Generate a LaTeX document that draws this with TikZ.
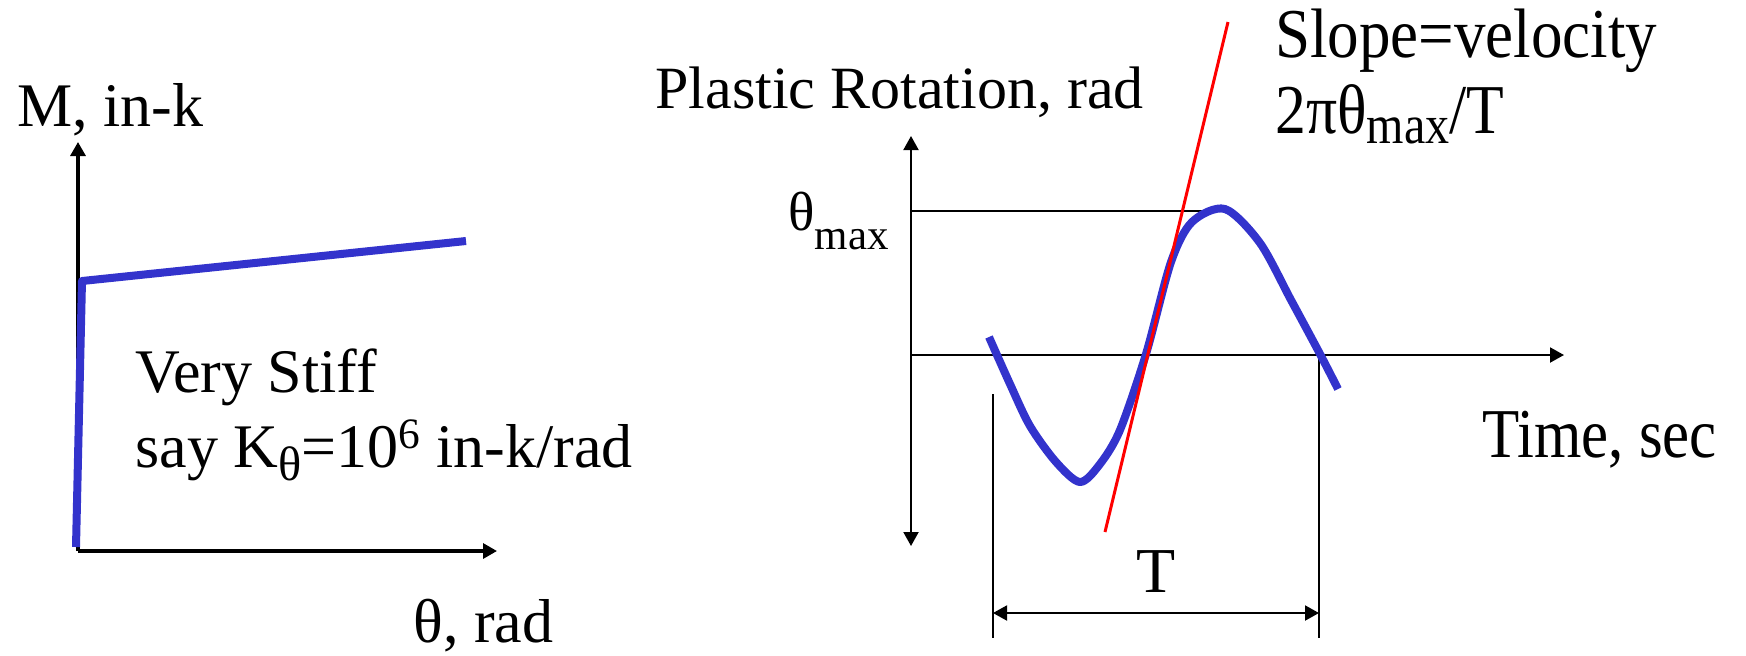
\documentclass[tikz,border=0pt]{standalone}
\usepackage{fontspec}
\setmainfont{Liberation Serif}
\usepackage{graphicx}
\usetikzlibrary{arrows.meta}
\definecolor{curveblue}{RGB}{51,51,204}
\definecolor{tangred}{RGB}{255,0,0}
\newcommand\lowsub[2]{\raisebox{-#1}{\scalebox{.78}{#2}}}
\newcommand\narrow[2]{\scalebox{#1}[1]{#2}}

\begin{document}
\begin{tikzpicture}[x=0.5pt,y=-0.5pt,
  >={Triangle[length=7pt,width=7.5pt]},
  axis/.style={line width=1.6pt},
  thinline/.style={line width=1pt},
  resp/.style={curveblue,line width=4pt,line join=round},
  tang/.style={tangred,line width=1.5pt},
  lbl/.style={inner sep=0pt,anchor=base west,font=\fontsize{31}{36}\selectfont}]
\useasboundingbox (0,0) rectangle (1746,655);

\coordinate (O1) at (78,551);
\coordinate (Mtop) at (78,142);
\coordinate (Thend) at (497,551);
\coordinate (K0) at (76,547);
\coordinate (Ky) at (82,281);
\coordinate (Kend) at (466,241);
\draw[axis,->] (O1) -- (Mtop);
\draw[axis,->] (O1) -- (Thend);
\draw[resp] (K0) -- (Ky) -- (Kend);
\node[lbl] (mlbl) at (17,126) {M, in-k};
\node[lbl] (stifflbl) at (135,392) {Very Stiff};
\node[lbl] (saylbl) at (135,467) {say K\lowsub{.22em}{θ}=10\textsuperscript{6} in-k/rad};
\node[lbl] (thetalbl) at (413,642) {θ, rad};

\coordinate (Rtop) at (911,136);
\coordinate (Rbot) at (911,546);
\coordinate (R0) at (911,355);
\coordinate (Tend) at (1564,355);
\coordinate (Rmax) at (911,211);
\coordinate (Pk) at (1228,211);
\coordinate (TL0) at (993,394);
\coordinate (TL1) at (993,638);
\coordinate (TR0) at (1319,358);
\coordinate (TR1) at (1319,638);
\coordinate (TA) at (993,613);
\coordinate (TB) at (1319,613);
\coordinate (Sa) at (1228,22);
\coordinate (Sb) at (1105,532);
\draw[thinline,<->] (Rbot) -- (Rtop);
\draw[thinline,->] (R0) -- (Tend);
\draw[thinline] (Rmax) -- (Pk);
\draw[thinline] (TL0) -- (TL1);
\draw[thinline] (TR0) -- (TR1);
\draw[thinline,<->] (TA) -- (TB);
\draw[resp] plot[smooth,tension=0.5] coordinates {(989,337) (1010,384) (1030,426) (1056,462) (1080,482) (1100,464) (1120,430) (1146,354) (1171,262) (1192,222) (1225,209) (1260,243) (1291,300) (1320,354) (1338,389)};
\draw[tang] (Sa) -- (Sb);

\node[lbl,font=\fontsize{30}{36}\selectfont] (rotlbl) at (655,108) {Plastic Rotation, rad};
\node[lbl,font=\fontsize{27.5}{33}\selectfont] (thmaxlbl) at (788,230) {θ\lowsub{.36em}{max}};
\node[lbl,font=\fontsize{35}{40}\selectfont] (slopelbl) at (1275,57) {\narrow{.9}{Slope=velocity}};
\node[lbl,font=\fontsize{35}{40}\selectfont] (vellbl) at (1275,133) {\narrow{.88}{2πθ\lowsub{.15em}{max}/T}};
\node[lbl,font=\fontsize{35}{40}\selectfont] (timelbl) at (1482,457) {\narrow{.87}{Time, sec}};
\node[lbl,anchor=base,font=\fontsize{32}{36}\selectfont] (tlbl) at (1156,592) {T};
\end{tikzpicture}
\end{document}
